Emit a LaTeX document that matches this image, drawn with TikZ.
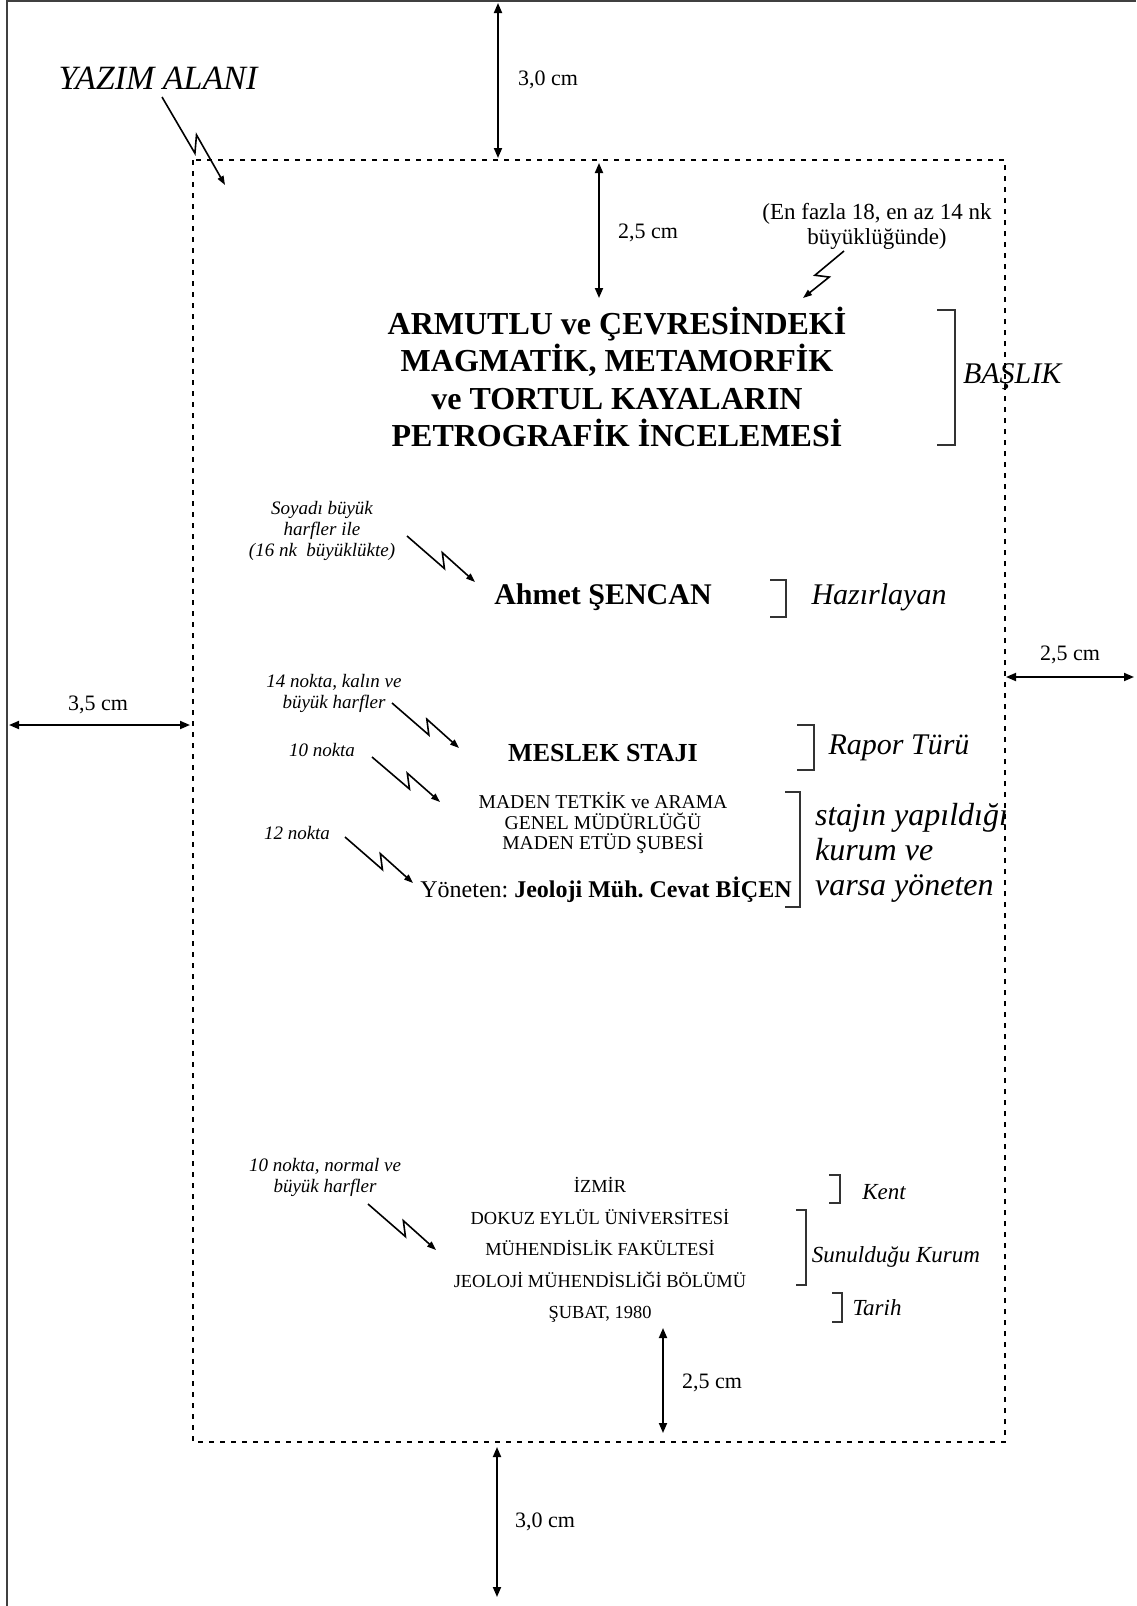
\documentclass[tikz,border=0pt]{standalone}
\usepackage{fontspec}
\setmainfont{Liberation Serif}
\usetikzlibrary{arrows.meta,calc}
\frenchspacing

\tikzset{
	olcu/.style={line width=0.9pt,{Triangle[length=5pt,width=4pt]}-{Triangle[length=5pt,width=4pt]}},
	simsekok/.style={line width=0.8pt,-{Triangle[length=4.5pt,width=3.2pt]}},
	parantez/.style={line width=0.55pt,black!80},
	alan/.style={line width=1.3pt,dash pattern=on 2.5pt off 3pt},
	notyazi/.style={font=\fontsize{9.5}{10.5}\selectfont\itshape,align=center},
	etiket/.style={font=\fontsize{15}{17}\selectfont\itshape},
	kucuketiket/.style={font=\fontsize{11.5}{14}\selectfont\itshape},
	olcuyazi/.style={font=\fontsize{11}{13}\selectfont}
}

% yildirim ok
\newcommand{\simsek}[2]{%
	\draw[simsekok] (#1) -- ($(#1)!0.6!(#2)!3pt!-90:(#2)$) -- ($(#1)!0.47!(#2)!3pt!90:(#2)$) -- (#2);}

\begin{document}
\begin{tikzpicture}[x=0.5pt,y=-0.5pt]
	\useasboundingbox (0,0) rectangle (1136,1606);

	% sayfa kenari ve yazim alani
	\draw[line width=1pt,black!75] (7,1606) -- (7,1) -- (1136,1);
	\draw[alan] (193,160) rectangle (1005,1442);

	% olculer
	\coordinate (ust1) at (498,3);     \coordinate (ust2) at (498,158);
	\coordinate (ic1) at (599,163);    \coordinate (ic2) at (599,298);
	\coordinate (sag1) at (1006,677);  \coordinate (sag2) at (1134,677);
	\coordinate (sol1) at (9,725);     \coordinate (sol2) at (190,725);
	\coordinate (alt1) at (663,1328);  \coordinate (alt2) at (663,1433);
	\coordinate (dis1) at (497,1447);  \coordinate (dis2) at (497,1597);
	\draw[olcu] (ust1) -- (ust2);
	\draw[olcu] (ic1) -- (ic2);
	\draw[olcu] (sag1) -- (sag2);
	\draw[olcu] (sol1) -- (sol2);
	\draw[olcu] (alt1) -- (alt2);
	\draw[olcu] (dis1) -- (dis2);
	\node[olcuyazi] (olcuust) at (548,80) {3,0 cm};
	\node[olcuyazi] (olcuic) at (648,233) {2,5 cm};
	\node[olcuyazi] (olcusag) at (1070,655) {2,5 cm};
	\node[olcuyazi] (olcusol) at (98,705) {3,5 cm};
	\node[olcuyazi] (olcualt) at (712,1383) {2,5 cm};
	\node[olcuyazi] (olcudis) at (545,1522) {3,0 cm};

	% metinler
	\node[font=\fontsize{17}{19}\selectfont\itshape] (yazim) at (158,78) {YAZIM ALANI};
	\node[align=center,font=\fontsize{11.5}{12.5}\selectfont] (enfazla) at (877,226) {(En fazla 18, en az 14 nk\\büyüklüğünde)};
	\node[font=\fontsize{16}{18.8}\selectfont\bfseries,align=center] (baslik) at (617,377)
		{ARMUTLU ve ÇEVRESİNDEKİ\\MAGMATİK, METAMORFİK\\ve TORTUL KAYALARIN\\PETROGRAFİK İNCELEMESİ};
	\node[notyazi] (soyadi) at (322,531) {Soyadı büyük\\harfler ile\\(16 nk\ \ büyüklükte)};
	\node[font=\fontsize{15}{17}\selectfont\bfseries] (isim) at (603,597) {Ahmet ŞENCAN};
	\node[notyazi] (ondort) at (334,693) {14 nokta, kalın ve\\büyük harfler};
	\node[font=\fontsize{13}{15}\selectfont\bfseries] (meslek) at (603,753) {MESLEK STAJI};
	\node[notyazi] (on) at (322,750) {10 nokta};
	\node[font=\fontsize{9.8}{10.4}\selectfont,align=center] (kurum) at (603,823)
		{MADEN TETKİK ve ARAMA\\GENEL MÜDÜRLÜĞÜ\\MADEN ETÜD ŞUBESİ};
	\node[notyazi] (oniki) at (297,833) {12 nokta};
	\node[font=\fontsize{12}{14}\selectfont] (yoneten) at (606,890) {Yöneten: \textbf{Jeoloji Müh. Cevat BİÇEN}};
	\node[notyazi] (onnormal) at (325,1177) {10 nokta, normal ve\\büyük harfler};
	\node[font=\fontsize{9.2}{15.75}\selectfont,align=center] (sunulan) at (600,1250)
		{İZMİR\\DOKUZ EYLÜL ÜNİVERSİTESİ\\MÜHENDİSLİK FAKÜLTESİ\\JEOLOJİ MÜHENDİSLİĞİ BÖLÜMÜ\\ŞUBAT, 1980};

	% sag taraftaki parantezler
	\foreach \xa/\xb/\ya/\yb in {937/955/310/445, 770/786/580/617, 797/814/725/770, 785/800/792/907, 829/840/1175/1203, 796/806/1210/1285, 832/842/1293/1322} {
		\draw[parantez] (\xa,\ya) -- (\xb,\ya) -- (\xb,\yb) -- (\xa,\yb);
	}
	\node[etiket,anchor=west] (baslikad) at (956,377) {BAŞLIK};
	\node[etiket] (hazirlayan) at (879,597) {Hazırlayan};
	\node[etiket] (rapor) at (899,748) {Rapor Türü};
	\node[font=\fontsize{16}{17.4}\selectfont\itshape,align=left,anchor=west] (staj) at (808,853) {stajın yapıldığı\\kurum ve\\varsa yöneten};
	\node[kucuketiket] (kent) at (884,1192) {Kent};
	\node[kucuketiket] (sunuldugu) at (896,1257) {Sunulduğu Kurum};
	\node[kucuketiket] (tarih) at (877,1308) {Tarih};

	% yildirim oklar
	\coordinate (s1) at (162,97);   \coordinate (e1) at (225,185);
	\coordinate (s2) at (844,251);  \coordinate (e2) at (803,298);
	\coordinate (s3) at (407,536);  \coordinate (e3) at (475,582);
	\coordinate (s4) at (392,703);  \coordinate (e4) at (459,748);
	\coordinate (s5) at (372,757);  \coordinate (e5) at (440,802);
	\coordinate (s6) at (345,837);  \coordinate (e6) at (413,883);
	\coordinate (s7) at (368,1204); \coordinate (e7) at (436,1250);
	\foreach \i in {1,...,7} {
		\simsek{s\i}{e\i}
	}
\end{tikzpicture}
\end{document}
